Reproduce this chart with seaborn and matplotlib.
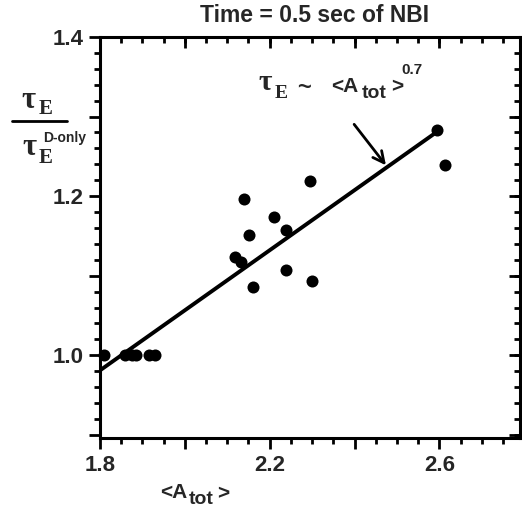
import matplotlib
matplotlib.use('Agg')
import matplotlib.pyplot as plt
from matplotlib.lines import Line2D, TICKDOWN, TICKLEFT
from matplotlib.ticker import MultipleLocator, FuncFormatter
import pandas as pd
import seaborn as sns

# measured points: <A_tot> vs normalised confinement time
a_tot = [1.81, 1.86, 1.875, 1.885, 1.915, 1.93,
         2.118, 2.132, 2.139, 2.151, 2.160, 2.209, 2.238, 2.238,
         2.296, 2.299, 2.595, 2.614]
tau_ratio = [1.0, 1.0, 1.0, 1.0, 1.0, 1.0,
             1.123, 1.117, 1.196, 1.151, 1.086, 1.174, 1.157, 1.107,
             1.219, 1.093, 1.283, 1.239]

# fit line (tau_E ~ <A_tot>^0.7), end points
fit_x = [1.80, 2.60]
fit_y = [0.981, 1.283]

x_labelled = [1.8, 2.2, 2.6]
y_labelled = [1.0, 1.2, 1.4]

sns.set_theme(style='ticks')
plt.rcParams['font.family'] = ['Liberation Sans', 'DejaVu Sans']
plt.rcParams['font.weight'] = 'bold'

W, H = 522, 508
XLIM = (1.8, 2.79)
YLIM = (0.896, 1.4)
fig = plt.figure(figsize=(W / 100, H / 100), dpi=100)
ax = fig.add_axes([100 / W, 1 - 438 / H, 420 / W, 401 / H])


def fx(px):
    return px / W


def fy(py):
    return 1 - py / H


def make_fmt(keep):
    def f(v, pos):
        for k in keep:
            if abs(v - k) < 1e-6:
                return f'{k:.1f}'
        return ''
    return FuncFormatter(f)


df = pd.DataFrame({'a_tot': a_tot, 'tau_ratio': tau_ratio})
fit = pd.DataFrame({'x': fit_x, 'y': fit_y})
sns.lineplot(data=fit, x='x', y='y', ax=ax, color='black', linewidth=2.8)
sns.scatterplot(data=df, x='a_tot', y='tau_ratio', ax=ax, color='black',
                s=75, edgecolor='black', linewidth=0, clip_on=False, zorder=5)
ax.set_xlim(*XLIM)
ax.set_ylim(*YLIM)
ax.set_xlabel('')
ax.set_ylabel('')
for side in ['left', 'right', 'top', 'bottom']:
    ax.spines[side].set_visible(True)
    ax.spines[side].set_linewidth(2.2)
    ax.spines[side].set_color('black')

x_major = MultipleLocator(0.2)
x_minor = MultipleLocator(0.05)
y_major = MultipleLocator(0.1)
y_minor = MultipleLocator(0.02)
ax.xaxis.set_major_locator(x_major)
ax.xaxis.set_minor_locator(x_minor)
ax.yaxis.set_major_locator(y_major)
ax.yaxis.set_minor_locator(y_minor)
ax.xaxis.set_major_formatter(make_fmt(x_labelled))
ax.yaxis.set_major_formatter(make_fmt(y_labelled))
ax.tick_params(which='both', direction='out', width=2, color='black',
               bottom=True, left=True, top=False, right=False)
ax.tick_params(which='major', length=8, labelsize=16, pad=4)
ax.tick_params(which='minor', length=4.5)

# inward ticks on the top and right sides, at the locator positions
for loc, size in ((x_minor, 4.5), (x_major, 8)):
    xs = [v for v in loc.tick_values(*XLIM) if XLIM[0] - 1e-9 <= v <= XLIM[1] + 1e-9]
    ax.plot(xs, [1] * len(xs), transform=ax.get_xaxis_transform(), linestyle='none',
            marker=TICKDOWN, markersize=size, markeredgewidth=2, color='black',
            clip_on=False)
for loc, size in ((y_minor, 4.5), (y_major, 8)):
    ys = [v for v in loc.tick_values(*YLIM) if YLIM[0] - 1e-9 <= v <= YLIM[1] + 1e-9]
    ax.plot([1] * len(ys), ys, transform=ax.get_yaxis_transform(), linestyle='none',
            marker=TICKLEFT, markersize=size, markeredgewidth=2, color='black',
            clip_on=False)
ax.set_xlim(*XLIM)
ax.set_ylim(*YLIM)

# title
fig.text(fx(315), fy(16), 'Time = 0.5 sec of NBI', ha='center', va='center',
         fontsize=16.5, fontweight='bold')

serif = ['Liberation Serif', 'DejaVu Serif']

# y label as a fraction
fig.text(fx(28), fy(100), 'τ', ha='center', va='center', fontsize=22, family=serif)
fig.text(fx(46), fy(109), 'E', ha='center', va='center', fontsize=15, family=serif)
fig.add_artist(Line2D([fx(12), fx(67)], [fy(121), fy(121)], transform=fig.transFigure,
                      color='black', linewidth=2))
fig.text(fx(29), fy(148), 'τ', ha='center', va='center', fontsize=22, family=serif)
fig.text(fx(46), fy(158), 'E', ha='center', va='center', fontsize=15, family=serif)
fig.text(fx(65), fy(138), 'D-only', ha='center', va='center', fontsize=10,
         fontweight='bold')

# x label
fig.text(fx(174), fy(493), '<A', ha='center', va='center', fontsize=15, fontweight='bold')
fig.text(fx(201), fy(500), 'tot', ha='center', va='center', fontsize=14, fontweight='bold')
fig.text(fx(223), fy(494), '>', ha='center', va='center', fontsize=15, fontweight='bold')

# annotation
fig.text(fx(265), fy(83), 'τ', ha='center', va='center', fontsize=21, family=serif)
fig.text(fx(281), fy(93), 'E', ha='center', va='center', fontsize=14, family=serif)
fig.text(fx(304), fy(87), '~', ha='center', va='center', fontsize=17, fontweight='bold')
fig.text(fx(345), fy(86), '<A', ha='center', va='center', fontsize=15, fontweight='bold')
fig.text(fx(374), fy(94), 'tot', ha='center', va='center', fontsize=14, fontweight='bold')
fig.text(fx(397), fy(87), '>', ha='center', va='center', fontsize=15, fontweight='bold')
fig.text(fx(412), fy(70), '0.7', ha='center', va='center', fontsize=11, fontweight='bold')
ax.annotate('', xy=(2.478, 1.236), xytext=(2.395, 1.293),
            arrowprops=dict(arrowstyle='->', color='black', lw=2,
                            mutation_scale=20))

fig.savefig('out.png', dpi=100)
